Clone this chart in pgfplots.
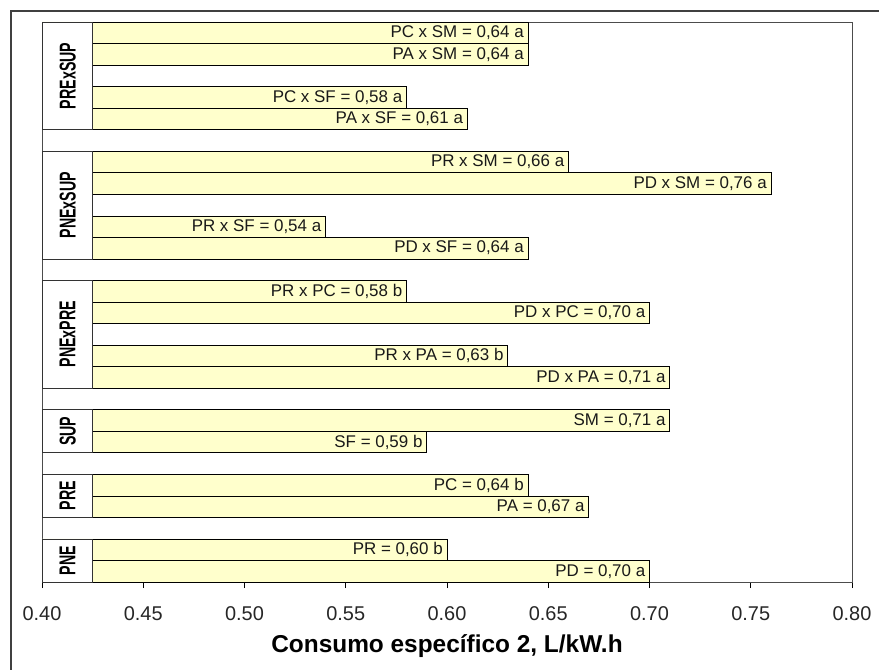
\documentclass[border=0pt]{standalone}
\usepackage{fontspec}
\setmainfont{Liberation Sans}
\usepackage{graphicx}
\usepackage{pgfplots}
\pgfplotsset{compat=1.18}
\definecolor{barfill}{RGB}{255,255,204}
\begin{document}
\begin{tikzpicture}
\useasboundingbox (-42bp,-88bp) rectangle (837bp,582bp);
\draw[line width=1.3bp, black!75] (-31bp,-90bp) -- (-31bp,571bp) -- (840bp,571bp);
\begin{axis}[
  at={(0,0)}, anchor=south west,
  scale only axis, width=810bp, height=560bp,
  xmin=0.40, xmax=0.80, ymin=0, ymax=26,
  xtick={0.40,0.45,0.50,0.55,0.60,0.65,0.70,0.75,0.80},
  xticklabels={0.40,0.45,0.50,0.55,0.60,0.65,0.70,0.75,0.80},
  ytick=\empty,
  tick align=outside, major tick length=6bp,
  xtick pos=bottom,
  tick style={black, line width=0.6bp},
  axis line style={black!70, line width=0.8bp},
  /pgf/number format/assume math mode=true,
  xticklabel style={font=\fontsize{20}{22}\selectfont, text=black!85, yshift=-15bp},
  xlabel={Consumo específico 2, L/kW.h},
  xlabel style={font=\bfseries\fontsize{24.5}{26}\selectfont, yshift=-7bp},
  clip=true,
]
\addplot[xbar, bar width=1, fill=barfill, draw=black, line width=0.6bp,
  point meta=explicit symbolic,
  nodes near coords,
  nodes near coords style={anchor=east, font=\fontsize{17}{19}\selectfont, inner sep=0pt, xshift=-4bp, text=black!90},
] coordinates {
  (0.70,0.5) [{PD = 0,70 a}]
  (0.60,1.5) [{PR = 0,60 b}]
  (0.67,3.5) [{PA = 0,67 a}]
  (0.64,4.5) [{PC = 0,64 b}]
  (0.59,6.5) [{SF = 0,59 b}]
  (0.71,7.5) [{SM = 0,71 a}]
  (0.71,9.5) [{PD x PA = 0,71 a}]
  (0.63,10.5) [{PR x PA = 0,63 b}]
  (0.70,12.5) [{PD x PC = 0,70 a}]
  (0.58,13.5) [{PR x PC = 0,58 b}]
  (0.64,15.5) [{PD x SF = 0,64 a}]
  (0.54,16.5) [{PR x SF = 0,54 a}]
  (0.76,18.5) [{PD x SM = 0,76 a}]
  (0.66,19.5) [{PR x SM = 0,66 a}]
  (0.61,21.5) [{PA x SF = 0,61 a}]
  (0.58,22.5) [{PC x SF = 0,58 a}]
  (0.64,24.5) [{PA x SM = 0,64 a}]
  (0.64,25.5) [{PC x SM = 0,64 a}]
};
\foreach \ya/\yb/\lab in {0/2/PNE, 3/5/PRE, 6/8/SUP, 9/14/PNExPRE, 15/20/PNExSUP, 21/26/PRExSUP}{
  \edef\temp{\noexpand\draw[fill=white, draw=black!80, line width=0.8bp] (axis cs:0.4003,\ya) rectangle (axis cs:0.425,\yb);
  \noexpand\node[rotate=90, font=\noexpand\bfseries\noexpand\fontsize{23}{25}\noexpand\selectfont, inner sep=0pt] at (axis cs:0.41265,{(\ya+\yb)/2}) {\noexpand\scalebox{0.62}[1]{\lab}};}
  \temp
}
\end{axis}
\end{tikzpicture}
\end{document}
